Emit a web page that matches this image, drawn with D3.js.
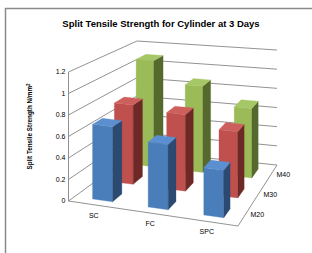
<!DOCTYPE html>
<html>
<head>
<meta charset="utf-8"/>
<script src="https://cdn.jsdelivr.net/npm/d3@7"></script>
<style>
html, body {
  margin: 0;
  padding: 0;
  background: #fff;
  font-family: "Liberation Sans", Arial, sans-serif;
}
.grid {
  fill: none;
  stroke: #868686;
  stroke-width: 0.9;
}
.tick-label, .cat-label, .ser-label {
  font-size: 7px;
  fill: #000;
}
.title {
  font-size: 9.5px;
  font-weight: bold;
}
.ytitle {
  font-size: 6.3px;
  font-weight: bold;
}
</style>
</head>
<body>
<svg id="chart" width="312" height="253"></svg>

<script>
// ---------------- data
var categories = ["SC", "FC", "SPC"];
var seriesNames = ["M20", "M30", "M40"];
var m20 = [0.70, 0.60, 0.43];
var m30 = [0.78, 0.74, 0.63];
var m40 = [1.10, 0.88, 0.70];
var yTicks = [0, 0.2, 0.4, 0.6, 0.8, 1, 1.2];
var titleText = "Split Tensile Strength for Cylinder at 3 Days";

var seriesValues = [m20, m30, m40];
var colors = [
  {front: "#4a7ebb", side: "#2a4a72", top: "#5b8fcf"},
  {front: "#c0504d", side: "#6e2826", top: "#cd5f5c"},
  {front: "#9bbb59", side: "#55692c", top: "#a6c766"}
];

// ---------------- box in screen space (floor corners + wall heights)
// floor: fl = front-left, fr = front-right, br = back-right, bl = back-left
var floorPts = {fl: [68.5, 201], fr: [238, 226], br: [277, 165], bl: [137, 151]};
var wallH   = {fl: 129, fr: 135, br: 115, bl: 110};

function bil(u, w, k) {
  return (1-u)*(1-w)*k.fl + u*(1-w)*k.fr + u*w*k.br + (1-u)*w*k.bl;
}
// u: along categories (0..1), v: height fraction (0..1), w: depth (0 front .. 1 back)
function project(u, v, w) {
  var px = bil(u, w, {fl: floorPts.fl[0], fr: floorPts.fr[0], br: floorPts.br[0], bl: floorPts.bl[0]});
  var py = bil(u, w, {fl: floorPts.fl[1], fr: floorPts.fr[1], br: floorPts.br[1], bl: floorPts.bl[1]});
  var h = bil(u, w, wallH);
  return [px, py - v*h];
}

var x = d3.scaleBand().domain(categories).range([0, 1]).paddingInner(0.64).paddingOuter(0.32);
var z = d3.scaleBand().domain(seriesNames).range([0, 1]).paddingInner(0.55).paddingOuter(0.275);
var y = d3.scaleLinear().domain([0, 1.2]).range([0, 1]);

var svg = d3.select("#chart");
var line = d3.line();

// chart border (right/bottom edges are cut off in the picture)
svg.append("path")
  .attr("d", "M5.5,253V8.5H312")
  .attr("fill", "none")
  .attr("stroke", "#8a8a8a")
  .attr("stroke-width", 1.5);

svg.append("text")
  .attr("class", "title")
  .attr("x", 161)
  .attr("y", 26.5)
  .attr("text-anchor", "middle")
  .text(titleText);

// y axis title
var yt = svg.append("text")
  .attr("class", "ytitle")
  .attr("transform", "translate(32,126.5) rotate(-90)")
  .attr("text-anchor", "middle");
yt.append("tspan").text("Split Tensile Strength N/mm");
yt.append("tspan").attr("dy", -2).style("font-size", "4.5px").text("2");

// ---------------- walls / gridlines
var g = svg.append("g");
yTicks.forEach(function(t) {
  var v = y(t);
  g.append("path").attr("class", "grid")
    .attr("d", line([project(0, v, 0), project(0, v, 1), project(1, v, 1)]));
  var p = project(0, v, 0);
  g.append("text")
    .attr("class", "tick-label")
    .attr("x", p[0] - 3)
    .attr("y", p[1])
    .attr("dy", "0.35em")
    .attr("text-anchor", "end")
    .text(t);
});
// value axis + floor edges
g.append("path").attr("class", "grid")
  .attr("d", line([project(0, 1, 0), project(0, 0, 0), project(1, 0, 0), project(1, 0, 1)]));

// ---------------- bars (back row first, left to right)
var bars = g.append("g");
for (var s = seriesNames.length - 1; s >= 0; s--) {
  categories.forEach(function(c, i) {
    var u0 = x(c), u1 = x(c) + x.bandwidth();
    var w0 = z(seriesNames[s]), w1 = w0 + z.bandwidth();
    var h = y(seriesValues[s][i]);
    var col = colors[s];
    var faces = [
      {pts: [[u0,0,w0],[u1,0,w0],[u1,h,w0],[u0,h,w0]], fill: col.front},
      {pts: [[u1,0,w0],[u1,0,w1],[u1,h,w1],[u1,h,w0]], fill: col.side},
      {pts: [[u0,h,w0],[u1,h,w0],[u1,h,w1],[u0,h,w1]], fill: col.top}
    ];
    faces.forEach(function(f) {
      bars.append("path")
        .attr("d", line(f.pts.map(function(p) { return project(p[0], p[1], p[2]); })) + "Z")
        .attr("fill", f.fill)
        .attr("stroke", f.fill)
        .attr("stroke-width", 0.3)
        .attr("stroke-linejoin", "round");
    });
  });
}

// ---------------- axis labels on the floor
categories.forEach(function(c) {
  var p = project(x(c) + x.bandwidth()/2, 0, 0);
  g.append("text")
    .attr("class", "cat-label")
    .attr("x", p[0] - 3)
    .attr("y", p[1] + 10)
    .attr("dy", "0.35em")
    .attr("text-anchor", "middle")
    .text(c);
});
seriesNames.forEach(function(sn) {
  var p = project(1, 0, z(sn) + z.bandwidth()/2);
  g.append("text")
    .attr("class", "ser-label")
    .attr("x", p[0] + 6)
    .attr("y", p[1] - 1)
    .attr("dy", "0.35em")
    .attr("text-anchor", "start")
    .text(sn);
});
</script>
</body>
</html>
